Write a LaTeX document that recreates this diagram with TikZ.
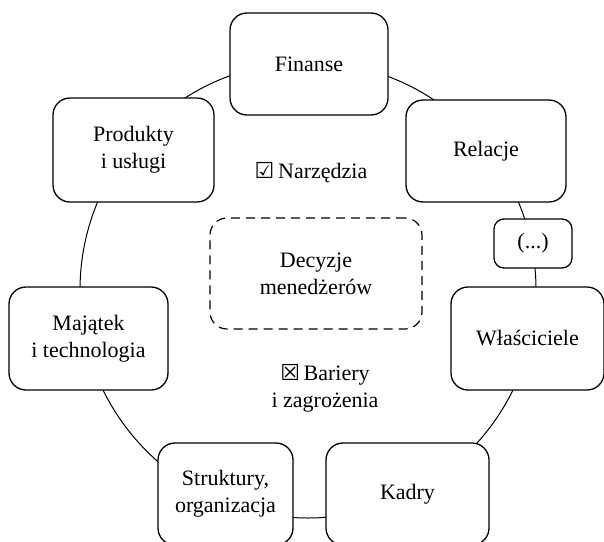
\documentclass[tikz,border=0pt]{standalone}
\usepackage{fontspec}
\setmainfont{Liberation Serif}
\newfontfamily\symfont{DejaVu Sans}
\newcommand{\marksym}[1]{{\symfont\fontsize{22}{24}\selectfont #1}}
\begin{document}
\begin{tikzpicture}[x=1pt, y=-1pt,
  txt/.style={font=\fontsize{22}{27}\selectfont, align=center, inner sep=0pt},
  box/.style={txt, draw, line width=1.3pt, rounded corners=17pt, fill=white},
  dbox/.style={txt, draw, line width=1.2pt, rounded corners=17pt, dash pattern=on 9pt off 6pt},
  ring/.style={line width=1pt}]
\useasboundingbox (0,0) rectangle (604,541);
\clip (0,0) rectangle (604,541);
% the ring joining all areas
\coordinate (c) at (308,290);
\draw[ring] (c) circle (228pt);
% areas around the ring
\node[box, minimum width=158pt, minimum height=102pt] (fin) at (309,64) {Finanse};
\node[box, minimum width=160pt, minimum height=102pt] (rel) at (486,151) {Relacje};
\node[box, minimum width=78pt, minimum height=49pt, rounded corners=10pt] (etc) at (533,243.5) {(...)};
\node[box, minimum width=153pt, minimum height=103pt] (wla) at (527.5,338.5) {Właściciele};
\node[box, minimum width=163pt, minimum height=102pt] (kad) at (407.5,494) {Kadry};
\node[box, minimum width=135pt, minimum height=102pt] (str) at (225.5,494) {Struktury,\\organizacja};
\node[box, minimum width=159pt, minimum height=103pt] (maj) at (88.5,338.5) {Majątek\\i technologia};
\node[box, minimum width=161pt, minimum height=104pt] (pro) at (133.5,150) {Produkty\\i usługi};
% centre
\node[dbox, minimum width=212pt, minimum height=111pt] (dec) at (316,273.5) {Decyzje\\menedżerów};
\node[txt] (nar) at (311,173) {\marksym{☑}\,Narzędzia};
\node[txt] (bar) at (325,388) {\marksym{☒}\,Bariery\\i zagrożenia};
\end{tikzpicture}
\end{document}
